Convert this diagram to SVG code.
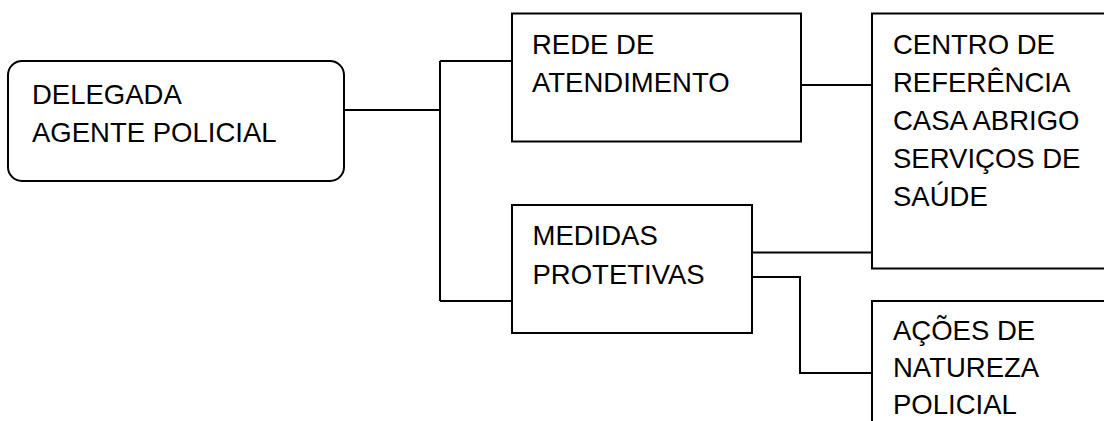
<svg xmlns="http://www.w3.org/2000/svg" width="1104" height="421" viewBox="0 0 1104 421">
<style>
.box{fill:#fff;stroke:#000;stroke-width:2}
.ln{fill:none;stroke:#000;stroke-width:2}
text{font-family:"Liberation Sans",Arial,sans-serif;font-size:27.5px;fill:#000}
</style>
<rect width="1104" height="421" fill="#fff"/>
<g id="connectors">
<path class="ln" d="M344 110H440M440 61V301M440 61H512M440 301H512"/>
<path class="ln" d="M801 85H872"/>
<path class="ln" d="M752 252.5H872"/>
<path class="ln" d="M752 277H800V373H872"/>
</g>
<g id="delegada">
<rect class="box" x="8" y="61" width="336" height="120" rx="14"/>
<text x="32" y="103.5">DELEGADA</text>
<text x="32" y="142">AGENTE POLICIAL</text>
</g>
<g id="rede">
<rect class="box" x="512" y="13.5" width="289" height="128"/>
<text x="532" y="54">REDE DE</text>
<text x="532" y="92">ATENDIMENTO</text>
</g>
<g id="medidas">
<rect class="box" x="512" y="205" width="240" height="128"/>
<text x="532.5" y="245">MEDIDAS</text>
<text x="532.5" y="283.5">PROTETIVAS</text>
</g>
<g id="centro">
<rect class="box" x="872" y="13.5" width="240" height="255"/>
<text x="893" y="53.5">CENTRO DE</text>
<text x="893" y="91.5">REFERÊNCIA</text>
<text x="893" y="130">CASA ABRIGO</text>
<text x="893" y="168">SERVIÇOS DE</text>
<text x="893" y="206">SAÚDE</text>
</g>
<g id="acoes">
<rect class="box" x="872" y="301" width="240" height="130"/>
<text x="893" y="340">AÇÕES DE</text>
<text x="893" y="377">NATUREZA</text>
<text x="893" y="414">POLICIAL</text>
</g>
</svg>
